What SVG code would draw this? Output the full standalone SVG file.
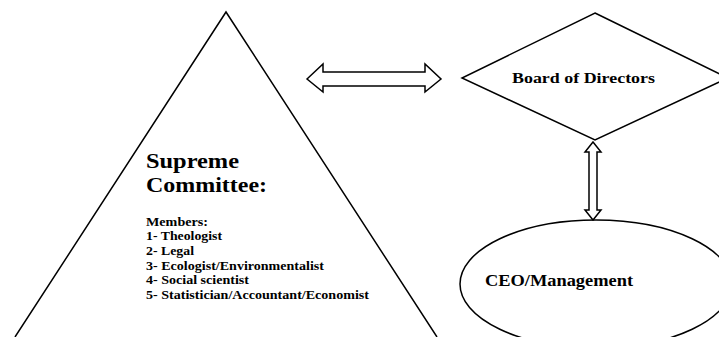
<svg xmlns="http://www.w3.org/2000/svg" width="719" height="337" viewBox="0 0 719 337">
<style>
.shape{fill:#fff;stroke:#000;stroke-width:1.5}
.t{font-family:"Liberation Serif","Times New Roman",serif;font-weight:bold;fill:#000}
</style>
<rect width="719" height="337" fill="#fff"/>
<g id="supreme-committee">
<polyline points="15,337 226,12 437,337" fill="none" stroke="#000" stroke-width="1.5"/>
<text class="t" x="146" y="168" font-size="21" textLength="93" lengthAdjust="spacingAndGlyphs">Supreme</text>
<text class="t" x="146" y="192" font-size="21" textLength="121" lengthAdjust="spacingAndGlyphs">Committee:</text>
<text class="t" x="146" y="226" font-size="12.5" textLength="62" lengthAdjust="spacingAndGlyphs">Members:</text>
<text class="t" x="146" y="240" font-size="12.5" textLength="76" lengthAdjust="spacingAndGlyphs">1- Theologist</text>
<text class="t" x="146" y="255" font-size="12.5" textLength="48" lengthAdjust="spacingAndGlyphs">2- Legal</text>
<text class="t" x="146" y="270" font-size="12.5" textLength="178" lengthAdjust="spacingAndGlyphs">3- Ecologist/Environmentalist</text>
<text class="t" x="146" y="284" font-size="12.5" textLength="103" lengthAdjust="spacingAndGlyphs">4- Social scientist</text>
<text class="t" x="146" y="299" font-size="12.5" textLength="223" lengthAdjust="spacingAndGlyphs">5- Statistician/Accountant/Economist</text>
</g>
<g id="board">
<polygon class="shape" points="595,13 728,78 595,140 462,78"/>
<text class="t" x="512" y="83" font-size="15" textLength="143" lengthAdjust="spacingAndGlyphs">Board of Directors</text>
</g>
<g id="ceo">
<ellipse class="shape" cx="596" cy="284" rx="136" ry="64"/>
<text class="t" x="485" y="286" font-size="16" textLength="148" lengthAdjust="spacingAndGlyphs">CEO/Management</text>
</g>
<g id="connectors">
<polygon class="shape" points="307,79 323,64 323,72 425,72 425,64 441,79 425,92 425,86 323,86 323,92"/>
<polygon class="shape" points="593,142 601,152 597,152 597,210 601,210 593,220 585,210 589,210 589,152 585,152"/>
</g>
</svg>
